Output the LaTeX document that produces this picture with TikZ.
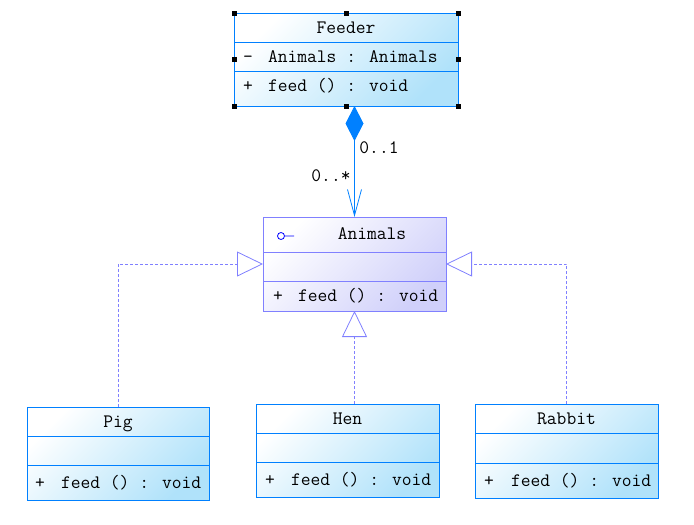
\documentclass[tikz,border=0pt]{standalone}
\usepackage{fontspec}
\usetikzlibrary{arrows.meta}
\definecolor{umlblue}{RGB}{0,128,255}
\definecolor{umlfill}{RGB}{176,226,250}
\definecolor{ifcline}{RGB}{128,128,255}
\definecolor{ifcfill}{RGB}{208,208,250}
\begin{document}
\begin{tikzpicture}[x=1pt,y=-1pt,
every node/.style={font=\fontsize{19}{19}\selectfont\ttfamily, inner sep=0pt, outer sep=0pt, text height=14pt, text depth=3pt},
classbox/.style={draw=umlblue, line width=1pt, top color=white, bottom color=umlfill, shading angle=45, anchor=north west},
ifcbox/.style={draw=ifcline, line width=1pt, top color=white, bottom color=ifcfill, shading angle=45, anchor=north west},
member/.style={anchor=west},
handle/.style={fill=black, minimum size=5pt, text height=, text depth=},
compo/.style={umlblue, line width=0.8pt, {Diamond[length=35pt,width=18pt,fill=umlblue]}-{Straight Barb[length=26pt,width=14pt]}},
gen/.style={draw=ifcline, line width=0.8pt, dash pattern=on 3pt off 2pt, -{Triangle[open,length=26pt,width=25pt,fill=white]}}
]
\useasboundingbox (0,0) rectangle (694,525);
% Feeder
\node[classbox, minimum width=224pt, minimum height=93pt] (feeder) at (234,13) {};
\draw[umlblue, line width=1pt] (feeder.west |- 0,42) -- (feeder.east |- 0,42);
\draw[umlblue, line width=1pt] (feeder.west |- 0,71) -- (feeder.east |- 0,71);
\node (feedertitle) at (346,27.5) {Feeder};
\node (feedervis) at (248,56.5) {-};
\node[member] (feederattr) at (268,56.5) {Animals : Animals};
\node (feederplus) at (248,85.5) {+};
\node[member] (feederop) at (268,85.5) {feed () : void};
\foreach \a/\n in {north west/1,north/2,north east/3,east/4,south east/5,south/6,south west/7,west/8}
	\node[handle] (handle\n) at (feeder.\a) {};
% Animals
\node[ifcbox, minimum width=183pt, minimum height=94pt] (animals) at (263,217) {};
\draw[ifcline, line width=1pt] (animals.west |- 0,252) -- (animals.east |- 0,252);
\draw[ifcline, line width=1pt] (animals.west |- 0,281) -- (animals.east |- 0,281);
\draw[blue, line width=0.8pt] (281,236) circle (3.5) (284.5,236) -- (294,236);
\node (animalstitle) at (372,234) {Animals};
\node (animalsplus) at (278,296) {+};
\node[member] (animalsop) at (298,296) {feed () : void};
% Pig
\node[classbox, minimum width=182pt, minimum height=93pt] (pig) at (27,407) {};
\draw[umlblue, line width=1pt] (pig.west |- 0,436) -- (pig.east |- 0,436);
\draw[umlblue, line width=1pt] (pig.west |- 0,465) -- (pig.east |- 0,465);
\node (pigtitle) at (118,421.5) {Pig};
\node (pigplus) at (40,482.5) {+};
\node[member] (pigop) at (61,482.5) {feed () : void};
% Hen
\node[classbox, minimum width=183pt, minimum height=93pt] (hen) at (256,404) {};
\draw[umlblue, line width=1pt] (hen.west |- 0,433) -- (hen.east |- 0,433);
\draw[umlblue, line width=1pt] (hen.west |- 0,462) -- (hen.east |- 0,462);
\node (hentitle) at (347.5,418.5) {Hen};
\node (henplus) at (270,479.5) {+};
\node[member] (henop) at (291,479.5) {feed () : void};
% Rabbit
\node[classbox, minimum width=183pt, minimum height=94pt] (rabbit) at (475,404) {};
\draw[umlblue, line width=1pt] (rabbit.west |- 0,433) -- (rabbit.east |- 0,433);
\draw[umlblue, line width=1pt] (rabbit.west |- 0,463) -- (rabbit.east |- 0,463);
\node (rabbittitle) at (566.5,418.5) {Rabbit};
\node (rabbitplus) at (489,480.5) {+};
\node[member] (rabbitop) at (511,480.5) {feed () : void};
% connectors
\draw[compo] (feeder.south -| animals.north) -- (animals.north);
\node (multone) at (379,148) {0..1};
\node (multmany) at (331,176) {0..*};
\draw[gen] (pig.north) |- (animals.west);
\draw[gen] (rabbit.north) |- (animals.east);
\draw[gen] (animals.south |- hen.north) -- (animals.south);
\end{tikzpicture}
\end{document}
